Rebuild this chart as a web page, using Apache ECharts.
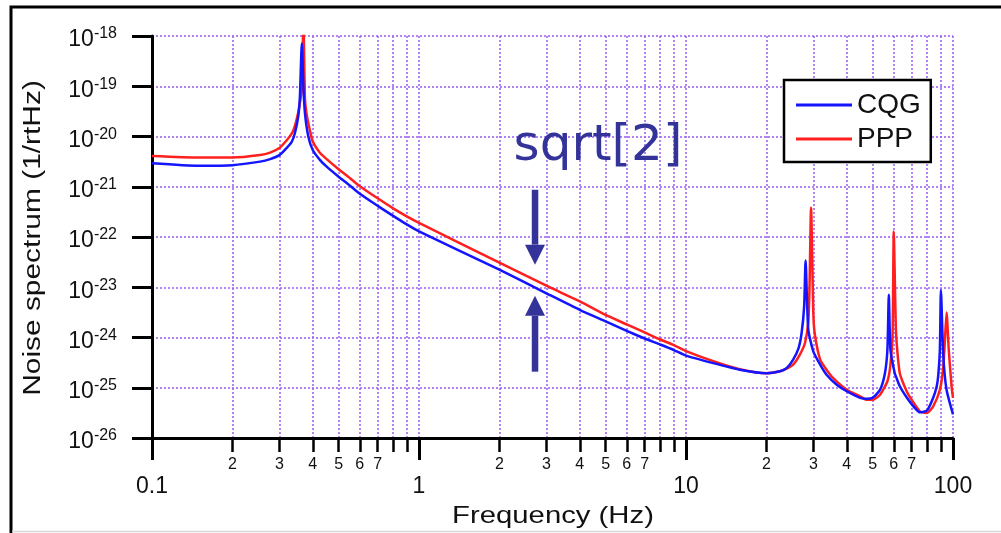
<!DOCTYPE html>
<html>
<head>
<meta charset="utf-8">
<title>Noise spectrum</title>
<script src="https://cdn.jsdelivr.net/npm/echarts@6/dist/echarts.min.js"></script>
<style>
  html, body { margin: 0; padding: 0; background: #fff; }
  #chart { width: 1001px; height: 533px; }
</style>
</head>
<body>
<div id="chart"></div>
<script>
// frequencies (Hz) and log10 of the noise value (1/rtHz)
var cqgFreq = [0.1, 0.15, 0.2, 0.254, 0.277, 0.3, 0.319, 0.334, 0.343, 0.353, 0.358, 0.364, 0.369, 0.374, 0.385, 0.4, 0.426, 0.451, 0.5, 0.552, 0.6, 0.7, 0.8, 0.9, 1,
  2, 3, 4, 5, 6, 7, 8, 9, 10, 12.65, 15.9, 20, 22.5, 23.8, 25.2, 26.4, 27.1, 27.7, 28.05, 28.7, 30, 31.8, 33.6, 36.7, 40, 44.9, 47.5, 50,
  53.3, 55.6, 56.8, 57.5, 58.3, 60.5, 61.5, 63.2, 67.2, 71.1, 75.2, 80, 84.3, 86.9, 88, 89.3, 90.1, 92, 94.6, 100];
var cqgLog = [-20.53, -20.58, -20.57, -20.50, -20.45, -20.37, -20.23, -20.10, -19.93, -19.60, -19.21, -18.15, -19.01, -19.54, -20.00, -20.27, -20.47, -20.60, -20.80, -20.98, -21.14, -21.38, -21.58, -21.75, -21.89,
  -22.65, -23.12, -23.45, -23.68, -23.87, -24.02, -24.14, -24.25, -24.36, -24.51, -24.64, -24.71, -24.67, -24.61, -24.44, -24.21, -23.91, -23.38, -22.47, -23.84, -24.28, -24.54, -24.74, -24.94, -25.07, -25.20, -25.22, -25.20,
  -25.04, -24.71, -24.24, -23.15, -24.24, -24.71, -24.81, -24.97, -25.20, -25.37, -25.49, -25.45, -25.20, -24.97, -24.77, -24.24, -23.06, -24.38, -25.04, -25.53];

var pppFreq = [0.1, 0.15, 0.2, 0.254, 0.277, 0.3, 0.319, 0.334, 0.343, 0.353, 0.358, 0.364, 0.369, 0.374, 0.379, 0.39, 0.4, 0.426, 0.451, 0.5, 0.552, 0.6, 0.7, 0.8, 0.9, 1,
  2, 3, 4, 5, 6, 7, 8, 9, 10, 12.65, 15.9, 20, 22.5, 23.8, 25.2, 26.7, 27.9, 28.7, 29, 29.4, 30, 30.4, 31.8, 33.6, 35.6, 40, 44.9, 47.5, 50,
  53.3, 56.8, 58.3, 59.4, 60, 61.2, 63.2, 67.2, 70, 75.2, 80, 84.3, 89.3, 92, 93.3, 94.6, 96.4, 98.8, 100];
var pppLog = [-20.39, -20.42, -20.42, -20.37, -20.32, -20.23, -20.08, -19.94, -19.79, -19.52, -19.33, -19.08, -17.70, -19.25, -19.54, -19.87, -20.10, -20.33, -20.45, -20.65, -20.83, -20.99, -21.23, -21.43, -21.59, -21.72,
  -22.51, -22.97, -23.28, -23.55, -23.74, -23.90, -24.04, -24.15, -24.27, -24.47, -24.63, -24.71, -24.67, -24.62, -24.54, -24.34, -24.11, -23.71, -23.05, -21.42, -23.56, -23.95, -24.44, -24.64, -24.81, -25.04, -25.17, -25.24, -25.24,
  -25.14, -24.87, -24.54, -23.91, -21.89, -23.91, -24.71, -25.08, -25.24, -25.47, -25.50, -25.37, -25.04, -24.58, -24.04, -23.50, -24.24, -24.98, -25.20];

var minorTicks = [0.2, 0.3, 0.4, 0.5, 0.6, 0.7, 0.8, 0.9, 2, 3, 4, 5, 6, 7, 8, 9, 20, 30, 40, 50, 60, 70, 80, 90];
var minorLabels = [0.2, 0.3, 0.4, 0.5, 0.6, 0.7, 2, 3, 4, 5, 6, 7, 20, 30, 40, 50, 60, 70];

// annotation: arrows at 2.72 Hz, log10 values of tail and tip
var arrowFreq = 2.72;
var arrowDown = [-21.06, -22.55];
var arrowUp = [-24.68, -23.17];

// the log axis loses precision near 1e-26, so y is plotted in units of 1e-26
var Y_EXP = -26;

var FONT = 'Liberation Sans, Arial, Helvetica, sans-serif';
var GRID = '#9a5cf5';
var NAVY = '#333399';

function yv(lg) { return Math.pow(10, lg - Y_EXP); }
function pairs(fs, ls) {
  return fs.map(function (f, i) { return [f, yv(ls[i])]; });
}

var chart = echarts.init(document.getElementById('chart'));

var option = {
  animation: false,
  backgroundColor: '#fff',
  grid: { left: 152, right: 48, top: 36, bottom: 95 },
  legend: {
    data: ['CQG', 'PPP'],
    orient: 'vertical',
    left: 784, top: 80,
    padding: [11, 10, 9, 12],
    itemGap: 6,
    itemWidth: 56, itemHeight: 3,
    icon: 'rect',
    backgroundColor: '#fff',
    borderColor: '#000', borderWidth: 2.5, borderRadius: 0,
    textStyle: { fontSize: 28, lineHeight: 28, fontFamily: FONT, color: '#111' }
  },
  xAxis: [
    {
      type: 'log', logBase: 10, min: 0.1, max: 100,
      position: 'bottom',
      axisLine: { show: true, lineStyle: { color: '#000', width: 3 } },
      axisTick: { show: true, length: 22, lineStyle: { color: '#000', width: 3 } },
      axisLabel: {
        margin: 37, fontSize: 23, fontFamily: FONT, color: '#111',
        formatter: function (v) { return String(Number(v.toPrecision(3))); }
      },
      splitLine: { show: true, lineStyle: { color: GRID, width: 1.5, type: [2, 2] } }
    },
    {
      type: 'log', logBase: 10, min: 0.1, max: 100,
      position: 'bottom',
      axisLine: { show: false },
      axisTick: { show: true, length: 14, customValues: minorTicks, lineStyle: { color: '#000', width: 2.5 } },
      axisLabel: {
        margin: 19, fontSize: 16, fontFamily: FONT, color: '#111',
        customValues: minorLabels,
        formatter: function (v) {
          var p = Math.pow(10, Math.floor(Math.log10(v) + 1e-9));
          return String(Math.round(v / p));
        }
      },
      splitLine: { show: true, lineStyle: { color: GRID, width: 1.5, type: [2, 2] } }
    }
  ],
  yAxis: {
    type: 'log', logBase: 10, min: 1, max: 1e8, interval: 1,
    axisLine: { show: true, lineStyle: { color: '#000', width: 3 } },
    axisTick: { show: true, length: 20, lineStyle: { color: '#000', width: 3 } },
    axisLabel: {
      margin: 35, padding: [8, 0, 0, 0], color: '#111',
      formatter: function (v) {
        return '{b|10}{s|' + (Math.round(Math.log10(v)) + Y_EXP) + '}';
      },
      rich: {
        b: { fontSize: 23, lineHeight: 28, fontFamily: FONT, color: '#111' },
        s: { fontSize: 16, lineHeight: 14, verticalAlign: 'top', fontFamily: FONT, color: '#111' }
      }
    },
    splitLine: { show: true, lineStyle: { color: GRID, width: 1.5, type: [2, 2] } }
  },
  series: [
    {
      name: 'PPP', type: 'line', xAxisIndex: 0, showSymbol: false, clip: true,
      smooth: 0.2,
      data: pairs(pppFreq, pppLog),
      itemStyle: { color: '#ff1f1f' },
      lineStyle: { color: '#ff1f1f', width: 2.5 }
    },
    {
      name: 'CQG', type: 'line', xAxisIndex: 0, showSymbol: false, clip: true,
      smooth: 0.2,
      data: pairs(cqgFreq, cqgLog),
      itemStyle: { color: '#1414ff' },
      lineStyle: { color: '#1414ff', width: 2.5 }
    }
  ]
};
chart.setOption(option);

function px(f, lg) {
  return chart.convertToPixel({ seriesIndex: 1 }, [f, yv(lg)]);
}

function arrow(tail, tip) {
  var a = px(arrowFreq, tail), b = px(arrowFreq, tip);
  var dir = b[1] > a[1] ? 1 : -1;
  var base = b[1] - dir * 20;
  return [
    { type: 'line', shape: { x1: a[0], y1: a[1], x2: a[0], y2: base }, style: { stroke: NAVY, lineWidth: 6.5 } },
    { type: 'polygon', shape: { points: [[b[0] - 10, base], [b[0] + 10, base], [b[0], b[1]]] }, style: { fill: NAVY } }
  ];
}

var graphics = [
  { type: 'rect', shape: { x: 11, y: 7, width: 1100, height: 600 }, style: { fill: 'none', stroke: '#000', lineWidth: 3 }, silent: true },
  { type: 'line', shape: { x1: 12, y1: 531.5, x2: 1001, y2: 531.5 }, style: { stroke: '#d8d8d8', lineWidth: 1.5 } },
  {
    type: 'text', x: 553, y: 516, scaleX: 1.22,
    style: { text: 'Frequency (Hz)', font: '24px ' + FONT, fill: '#111', align: 'center', verticalAlign: 'middle', textAlign: 'center', textVerticalAlign: 'middle' }
  },
  {
    type: 'text', x: 34, y: 238, rotation: Math.PI / 2, scaleX: 1.3,
    style: { text: 'Noise spectrum (1/rtHz)', font: '23px ' + FONT, fill: '#111', align: 'center', verticalAlign: 'middle', textAlign: 'center', textVerticalAlign: 'middle' }
  },
  {
    type: 'text', x: 598, y: 147,
    style: { text: 'sqrt[2]', font: '50px DejaVu Sans, sans-serif', fill: NAVY, align: 'center', verticalAlign: 'middle', textAlign: 'center', textVerticalAlign: 'middle' }
  }
].concat(arrow(arrowDown[0], arrowDown[1]), arrow(arrowUp[0], arrowUp[1]));

chart.setOption({ graphic: graphics });
</script>
</body>
</html>
